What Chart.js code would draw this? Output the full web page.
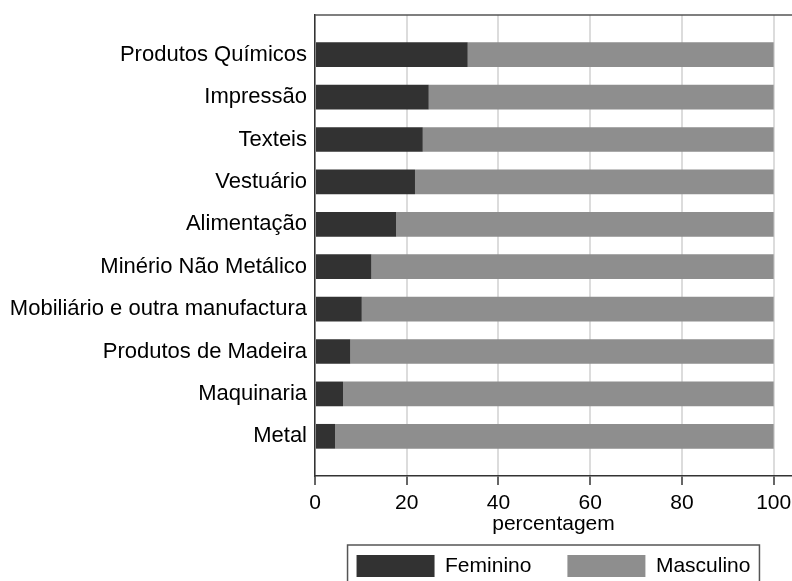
<!DOCTYPE html>
<html>
<head>
<meta charset="utf-8">
<script src="https://cdn.jsdelivr.net/npm/chart.js@4"></script>
<style>
  html, body { margin: 0; padding: 0; background: #fff; overflow: hidden; }
</style>
</head>
<body>
<canvas id="chart" width="792" height="581"></canvas>
<script>
// categories top to bottom
const categories = ['Produtos Químicos', 'Impressão', 'Texteis', 'Vestuário', 'Alimentação',
  'Minério Não Metálico', 'Mobiliário e outra manufactura', 'Produtos de Madeira', 'Maquinaria', 'Metal'];
// share of workers (%)
const feminino = [33.3, 24.8, 23.5, 21.8, 17.7, 12.3, 10.2, 7.7, 6.1, 4.4];
const masculino = [66.7, 75.2, 76.5, 78.2, 82.3, 87.7, 89.8, 92.3, 93.9, 95.6];
const xTicks = [0, 20, 40, 60, 80, 100];

const family = '"Liberation Sans", Arial, sans-serif';
const font = { family, size: 21 };

// top line of the plot box + frame round the legend
const framePlugin = {
  id: 'frame',
  afterDraw(chart) {
    const { ctx, chartArea: a, legend } = chart;
    ctx.save();
    ctx.strokeStyle = '#555';
    ctx.lineWidth = 1.5;
    ctx.beginPath();
    ctx.moveTo(a.left, a.top);
    ctx.lineTo(a.right, a.top);
    ctx.stroke();
    const hb = legend.legendHitBoxes;
    if (hb && hb.length) {
      const first = hb[0], last = hb[hb.length - 1];
      const l = first.left - 9, r = last.left + last.width + 9;
      ctx.strokeRect(l, first.top - 10, r - l, 80);
    }
    ctx.restore();
  }
};

const ctx = document.getElementById('chart').getContext('2d');
new Chart(ctx, {
  type: 'bar',
  data: {
    datasets: [
      {
        label: 'Feminino',
        data: feminino.map((v, i) => ({ x: v, y: i })),
        backgroundColor: '#323232'
      },
      {
        label: 'Masculino',
        data: masculino.map((v, i) => ({ x: v, y: i })),
        backgroundColor: '#8e8e8e'
      }
    ]
  },
  options: {
    indexAxis: 'y',
    responsive: false,
    animation: false,
    categoryPercentage: 1,
    barPercentage: 0.583,
    layout: { padding: { top: 15, left: 0, right: 0, bottom: -6 } },
    scales: {
      x: {
        type: 'linear',
        stacked: true,
        min: 0,
        max: 104,
        afterBuildTicks: (s) => { s.ticks = xTicks.map(v => ({ value: v })); },
        afterFit: (s) => { s.height = 43; s.paddingLeft = 0; s.paddingRight = 0; },
        grid: { color: '#dcdcdc', lineWidth: 2, tickColor: '#333', tickLength: 9, tickWidth: 1.5 },
        border: { color: '#333', width: 1.5 },
        ticks: { font, color: '#000', padding: 6, maxRotation: 0 },
        title: { display: true, text: 'percentagem', font, color: '#000', padding: { top: 0, bottom: -18 } }
      },
      y: {
        type: 'linear',
        stacked: true,
        reverse: true,
        offset: false,
        min: -0.936,
        max: 9.936,
        afterBuildTicks: (s) => { s.ticks = categories.map((c, i) => ({ value: i })); },
        afterFit: (s) => { s.width = 315; s.paddingTop = 0; s.paddingBottom = 0; },
        grid: { display: false, drawTicks: false },
        border: { display: true, color: '#333', width: 1.5 },
        ticks: { font: { family, size: 22 }, color: '#000', padding: 8, callback: (v) => categories[v] }
      }
    },
    plugins: {
      legend: {
        position: 'bottom',
        fullSize: false,
        labels: { font, color: '#000', boxWidth: 78, boxHeight: 22, padding: 36 }
      },
      tooltip: { enabled: false }
    }
  },
  plugins: [framePlugin]
});
</script>
</body>
</html>
